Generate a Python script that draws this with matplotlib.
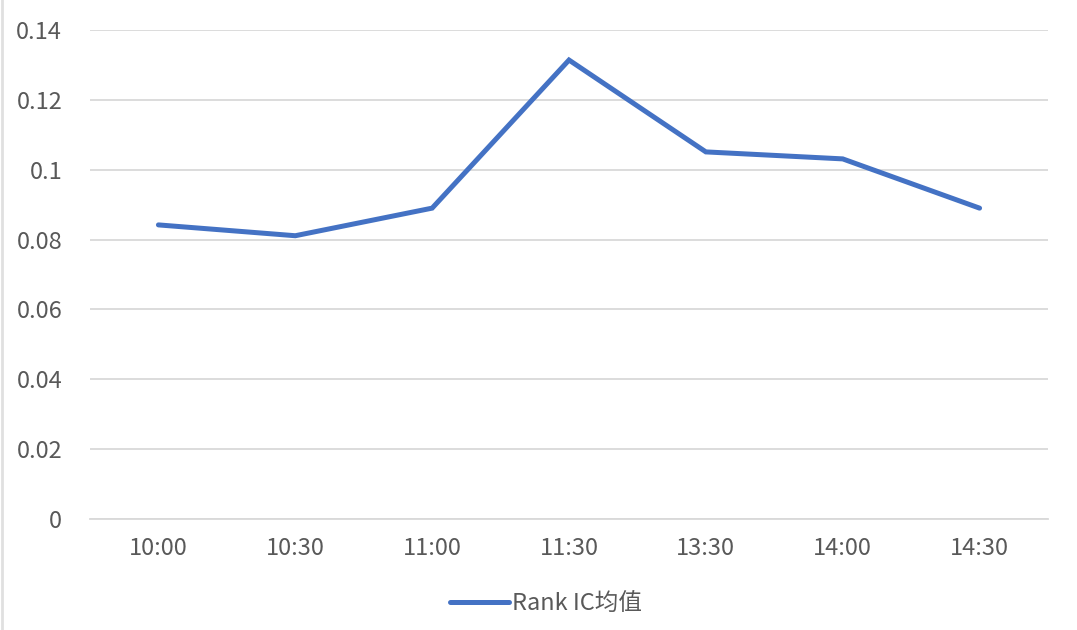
import matplotlib
matplotlib.use("Agg")
import matplotlib.pyplot as plt
from matplotlib.lines import Line2D

plt.rcParams['font.family'] = ['Noto Sans CJK SC', 'DejaVu Sans']
plt.rcParams['font.weight'] = 'light'

# data
times = ['10:00', '10:30', '11:00', '11:30', '13:30', '14:00', '14:30']
rank_ic = [0.0842, 0.0811, 0.0890, 0.1314, 0.1051, 0.1031, 0.0890]
y_ticks = [0, 0.02, 0.04, 0.06, 0.08, 0.1, 0.12, 0.14]
y_labels = ['0', '0.02', '0.04', '0.06', '0.08', '0.1', '0.12', '0.14']

blue = '#4472C4'
grey_text = '#595959'
grid_col = '#D9D9D9'

fig = plt.figure(figsize=(10.77, 6.3), dpi=100)
ax = fig.add_axes([90 / 1077, 1 - 519 / 630, 958 / 1077, 489 / 630])

x = list(range(len(times)))
ax.plot(x, rank_ic, color=blue, linewidth=3.6, solid_joinstyle='miter',
        solid_capstyle='round', label='Rank IC均值', zorder=3)

ax.set_xlim(-0.5, len(times) - 0.5)
ax.set_ylim(0, 0.14)
ax.set_yticks(y_ticks)
ax.set_yticklabels(y_labels)
ax.set_xticks(x)
ax.set_xticklabels(times)

ax.grid(axis='y', color=grid_col, linewidth=1.3)
ax.set_axisbelow(True)
for s in ['top', 'right', 'left']:
    ax.spines[s].set_visible(False)
ax.spines['bottom'].set_color(grid_col)
ax.spines['bottom'].set_linewidth(1.3)
ax.tick_params(axis='both', length=0, labelsize=17, colors=grey_text)
ax.tick_params(axis='y', pad=20)
ax.tick_params(axis='x', pad=13)

# legend below the plot
handle = Line2D([0], [0], color=blue, linewidth=3.6, solid_capstyle='round')
fig.legend([handle], ['Rank IC均值'], loc='center', bbox_to_anchor=(546 / 1077, 1 - 604 / 630),
           frameon=False, fontsize=17, labelcolor=grey_text, handlelength=2.5, handletextpad=0.1)

# thin frame line on the left edge
fig.add_artist(Line2D([2 / 1077, 2 / 1077], [0, 1], color='#E0E0E0', linewidth=2))

fig.savefig('out.png', dpi=100)
